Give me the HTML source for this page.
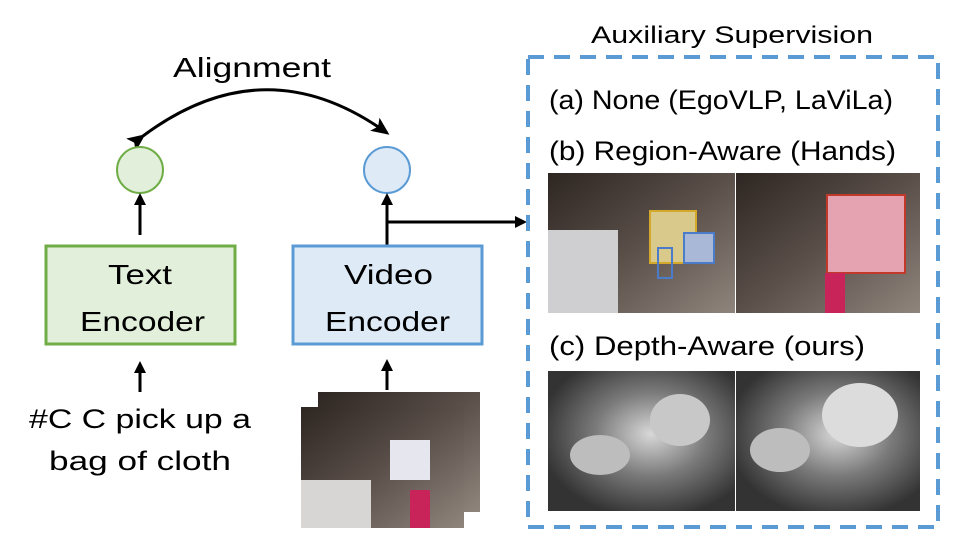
<!DOCTYPE html>
<html><head><style>
body{margin:0;background:#fff;}
svg text{font-family:"Liberation Sans",sans-serif;fill:#000;}
</style></head><body>
<svg width="960" height="550" viewBox="0 0 960 550" xmlns="http://www.w3.org/2000/svg">
<defs>
<marker id="ah" markerWidth="12" markerHeight="12" refX="9" refY="6" orient="auto" markerUnits="userSpaceOnUse"><path d="M0,0 L12,6 L0,12 z" fill="#000"/></marker>
<marker id="ah2" markerWidth="18" markerHeight="16" refX="15" refY="8" orient="auto" markerUnits="userSpaceOnUse"><path d="M0,0 L18,8 L0,16 L4,8 z" fill="#000"/></marker>
<linearGradient id="ph" x1="0" y1="0" x2="1" y2="1"><stop offset="0" stop-color="#2e2622"/><stop offset="0.5" stop-color="#5a4f49"/><stop offset="1" stop-color="#8f857d"/></linearGradient>
<radialGradient id="dp" cx="0.55" cy="0.45" r="0.6"><stop offset="0" stop-color="#d8d8d8"/><stop offset="0.5" stop-color="#7a7a7a"/><stop offset="1" stop-color="#333"/></radialGradient>
</defs>
<text x="173" y="77" font-size="28" textLength="158" lengthAdjust="spacingAndGlyphs">Alignment</text>
<path d="M143,136 Q265,45 387,133" fill="none" stroke="#000" stroke-width="3" marker-start="url(#ah2)" marker-end="url(#ah2)"/>
<circle cx="140" cy="170" r="23" fill="#e2efda" stroke="#70ad47" stroke-width="2"/>
<circle cx="387" cy="170" r="23" fill="#deebf7" stroke="#5b9bd5" stroke-width="2"/>
<line x1="140" y1="235" x2="140" y2="196" stroke="#000" stroke-width="3" marker-end="url(#ah)"/>
<line x1="387" y1="245" x2="387" y2="196" stroke="#000" stroke-width="3" marker-end="url(#ah)"/>
<polyline points="387,222 524,222" fill="none" stroke="#000" stroke-width="3" marker-end="url(#ah)"/>
<rect x="46" y="246" width="189" height="98" fill="#e2efda" stroke="#70ad47" stroke-width="3"/>
<text x="108" y="284" font-size="28" textLength="64" lengthAdjust="spacingAndGlyphs">Text</text>
<text x="80" y="331" font-size="28" textLength="125" lengthAdjust="spacingAndGlyphs">Encoder</text>
<rect x="293" y="246" width="189" height="98" fill="#deebf7" stroke="#5b9bd5" stroke-width="3"/>
<text x="344" y="284" font-size="28" textLength="89" lengthAdjust="spacingAndGlyphs">Video</text>
<text x="325" y="331" font-size="28" textLength="125" lengthAdjust="spacingAndGlyphs">Encoder</text>
<line x1="140" y1="392" x2="140" y2="364" stroke="#000" stroke-width="3" marker-end="url(#ah)"/>
<line x1="387" y1="390" x2="387" y2="362" stroke="#000" stroke-width="3" marker-end="url(#ah)"/>
<text x="29" y="428" font-size="27" textLength="222" lengthAdjust="spacingAndGlyphs">#C C pick up a</text>
<text x="49" y="470" font-size="27" textLength="182" lengthAdjust="spacingAndGlyphs">bag of cloth</text>
<rect x="318" y="392" width="162" height="120" fill="url(#ph)"/>
<rect x="301" y="407" width="163" height="121" fill="url(#ph)"/>
<rect x="301" y="480" width="70" height="48" fill="#d8d6d4"/>
<rect x="390" y="440" width="40" height="40" fill="#e6e6ee"/>
<rect x="410" y="490" width="20" height="38" fill="#c8245a"/>
<rect x="528" y="57" width="410" height="470" fill="none" stroke="#5b9bd5" stroke-width="4" stroke-dasharray="16,10"/>
<text x="591" y="43" font-size="24" textLength="282" lengthAdjust="spacingAndGlyphs">Auxiliary Supervision</text>
<text x="549" y="109" font-size="27" textLength="344" lengthAdjust="spacingAndGlyphs">(a) None (EgoVLP, LaViLa)</text>
<text x="549" y="160" font-size="27" textLength="347" lengthAdjust="spacingAndGlyphs">(b) Region-Aware (Hands)</text>
<rect x="548" y="173" width="187" height="140" fill="url(#ph)"/>
<rect x="548" y="230" width="70" height="83" fill="#cfcfd2"/>
<rect x="650" y="211" width="46" height="52" fill="#d9c98a" stroke="#d4a82a" stroke-width="2"/>
<rect x="684" y="233" width="30" height="30" fill="#a8b8d6" stroke="#4a7cc9" stroke-width="2"/>
<rect x="658" y="248" width="14" height="30" fill="none" stroke="#4a7cc9" stroke-width="2"/>
<rect x="736" y="173" width="184" height="140" fill="url(#ph)"/>
<rect x="827" y="195" width="78" height="78" fill="#e5a3b2" stroke="#c0392b" stroke-width="2"/>
<rect x="825" y="273" width="20" height="40" fill="#c8245a"/>
<text x="549" y="355" font-size="27" textLength="316" lengthAdjust="spacingAndGlyphs">(c) Depth-Aware (ours)</text>
<rect x="548" y="371" width="187" height="140" fill="url(#dp)"/>
<rect x="736" y="371" width="184" height="140" fill="url(#dp)"/>
<ellipse cx="680" cy="420" rx="30" ry="26" fill="#c8c8c8"/>
<ellipse cx="600" cy="455" rx="30" ry="20" fill="#bdbdbd"/>
<ellipse cx="860" cy="415" rx="38" ry="32" fill="#dcdcdc"/>
<ellipse cx="780" cy="450" rx="30" ry="22" fill="#bdbdbd"/>
</svg>
</body></html>
